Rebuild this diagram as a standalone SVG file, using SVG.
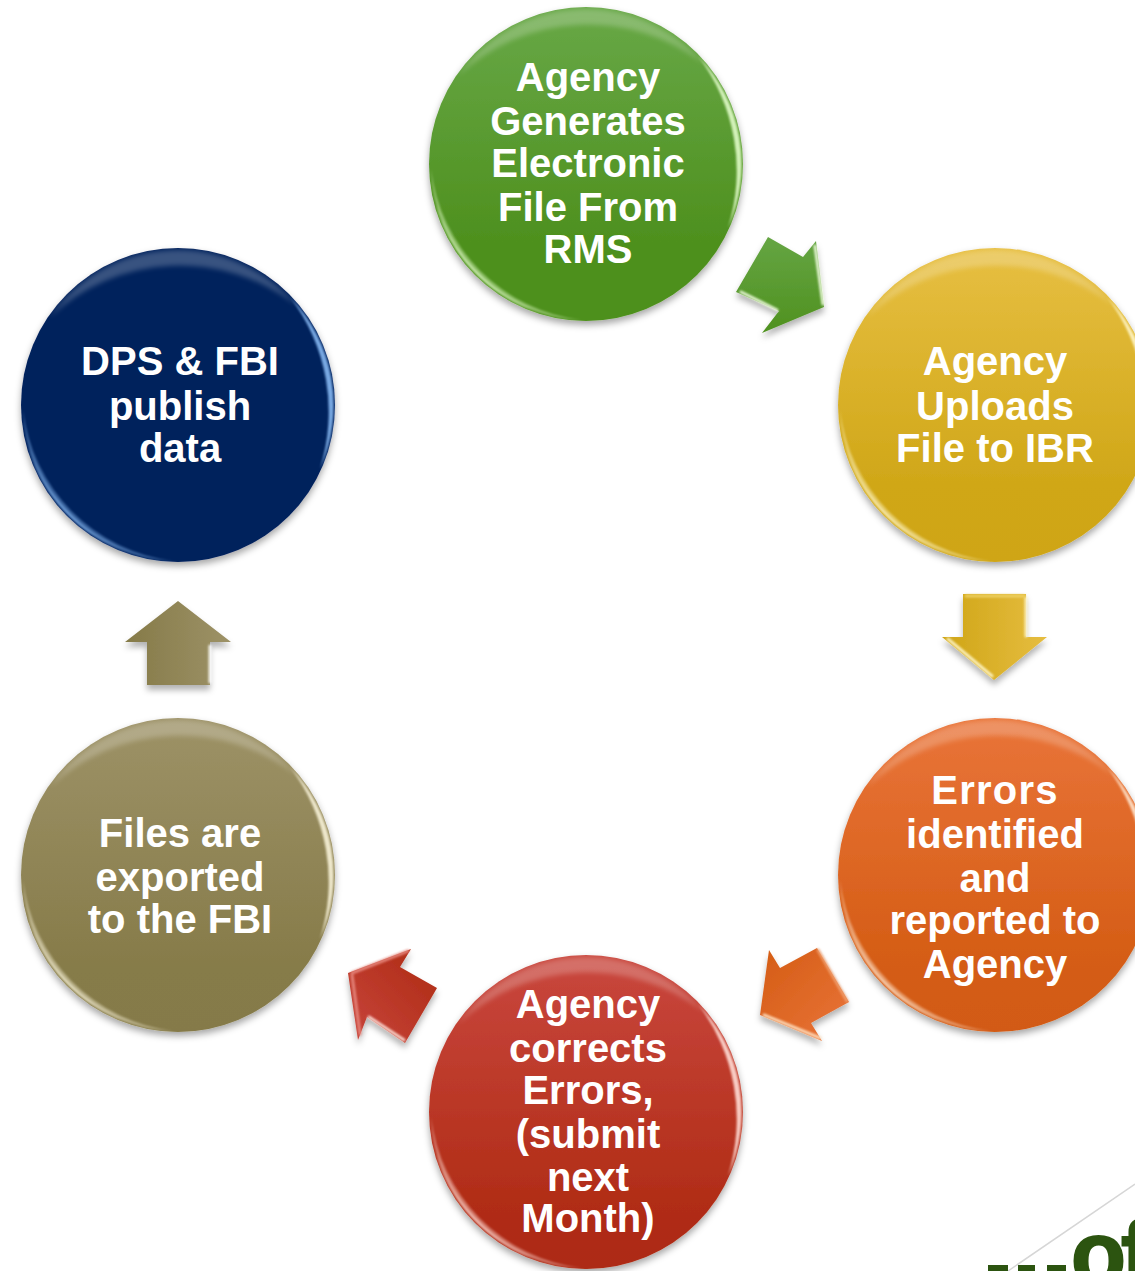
<svg xmlns="http://www.w3.org/2000/svg" width="1135" height="1271" viewBox="0 0 1135 1271">
<style>
text{font-family:"Liberation Sans",Arial,sans-serif;font-weight:700;font-size:40px;fill:#fff;text-anchor:middle}
.hi{opacity:.9;filter:url(#soft)}
.hi2{opacity:.45;filter:url(#soft)}
.top{fill:#fff;opacity:.22;filter:url(#blur)}
.ah{fill:none;stroke-linecap:round;stroke-width:3;opacity:.9;filter:url(#soft)}
</style>
<defs>
<filter id="sh" x="-15%" y="-15%" width="130%" height="130%"><feDropShadow dx="0" dy="4" stdDeviation="3.5" flood-color="#000" flood-opacity=".35"/></filter>
<filter id="ash" x="-25%" y="-25%" width="150%" height="150%"><feDropShadow dx="0" dy="5" stdDeviation="3" flood-color="#000" flood-opacity=".3"/></filter>
<filter id="soft" filterUnits="userSpaceOnUse" x="-1200" y="-1300" width="3600" height="3900"><feGaussianBlur stdDeviation=".8"/></filter>
<filter id="blur" filterUnits="userSpaceOnUse" x="-1200" y="-1300" width="3600" height="3900"><feGaussianBlur stdDeviation="2.5"/></filter>
<linearGradient id="g1" x1="0" y1="0" x2="0" y2="1"><stop offset="0" stop-color="#68a847"/><stop offset=".75" stop-color="#4e901e"/><stop offset="1" stop-color="#4e901b"/></linearGradient>
<linearGradient id="g2" x1="0" y1="0" x2="0" y2="1"><stop offset="0" stop-color="#e7bf42"/><stop offset=".75" stop-color="#d0a718"/><stop offset="1" stop-color="#cfa516"/></linearGradient>
<linearGradient id="g3" x1="0" y1="0" x2="0" y2="1"><stop offset="0" stop-color="#e97439"/><stop offset=".8" stop-color="#d45c14"/><stop offset="1" stop-color="#d25a12"/></linearGradient>
<linearGradient id="g4" x1="0" y1="0" x2="0" y2="1"><stop offset="0" stop-color="#c9473e"/><stop offset=".85" stop-color="#af2b14"/><stop offset="1" stop-color="#ad2a12"/></linearGradient>
<linearGradient id="g5" x1="0" y1="0" x2="0" y2="1"><stop offset="0" stop-color="#9d9267"/><stop offset=".8" stop-color="#867b49"/><stop offset="1" stop-color="#857a48"/></linearGradient>
<linearGradient id="a1" x1="0" y1="0" x2="0" y2="1"><stop offset="0" stop-color="#65a543"/><stop offset="1" stop-color="#4f911f"/></linearGradient>
<linearGradient id="a2" x1="0" y1="0" x2="1" y2="0"><stop offset="0" stop-color="#cfa516"/><stop offset="1" stop-color="#e6bd40"/></linearGradient>
<linearGradient id="a3" x1="0" y1="0" x2="1" y2="1"><stop offset="0" stop-color="#d45c14"/><stop offset="1" stop-color="#e97439"/></linearGradient>
<linearGradient id="a4" x1="1" y1="0" x2="0" y2="1"><stop offset="0" stop-color="#ad2a12"/><stop offset="1" stop-color="#c8453c"/></linearGradient>
<linearGradient id="a5" x1="0" y1="0" x2="1" y2="0"><stop offset="0" stop-color="#857a48"/><stop offset="1" stop-color="#9d9267"/></linearGradient>
<g id="bevel">
<path class="top" d="M-128-88A155 155 0 0 1 118-100A190 190 0 0 0-128-88Z"/>
<path class="hi2" d="M-155 5A156 156 0 0 0-5 156A172 172 0 0 1-155 5Z"/>
<path class="hi" d="M-150 40A156 156 0 0 0-50 147A170 170 0 0 1-150 40Z"/>
<path class="hi" d="M112-108A156 156 0 0 1 142 64A190 190 0 0 0 112-108Z"/>
</g>
</defs>

<g id="connectors">
<g id="arrow-green"><polygon filter="url(#ash)" fill="url(#a1)" points="768,237 803,257 816,241 824,307 762,333 779,311 736,292"/><path class="ah" stroke="#f4ffe4" d="M741 292L777 310M815 246L823 304"/></g>
<g id="arrow-yellow"><polygon filter="url(#ash)" fill="url(#a2)" points="963,594 1026,594 1026,637 1047,637 994,680 942,637 963,637"/><path class="ah" stroke="#fff6c8" d="M948 639L992 676M1026 598V636"/><path class="ah" stroke="#f0d468" d="M966 596H1024"/></g>
<g id="arrow-orange"><polygon filter="url(#ash)" fill="url(#a3)" points="769,950 780,968 817,948 849,1002 811,1023 822,1041 760,1015"/><path class="ah" stroke="#ffe0c0" d="M764 1015L820 1038"/><path class="ah" stroke="#f0a070" d="M818 950L847 1001"/></g>
<g id="arrow-red"><polygon filter="url(#ash)" fill="url(#a4)" points="411,949 400,967 437,988 405,1043 367,1017 358,1040 348,973"/><path class="ah" stroke="#ffe4dc" d="M369 1017L404 1040"/><path class="ah" stroke="#e88a80" d="M352 975L360 1034M352 973L408 951"/></g>
<g id="arrow-tan"><polygon filter="url(#ash)" fill="url(#a5)" points="178,601 231,642 210,642 210,685 147,685 147,642 125,642"/><path class="ah" stroke="#fff" d="M210 646V682"/></g>
</g>

<g id="node-green"><circle cx="586" cy="164" r="157" fill="url(#g1)" filter="url(#sh)"/><use href="#bevel" x="586" y="164" fill="#e0fbc8"/>
<text x="588" y="91">Agency</text><text x="588" y="135">Generates</text><text x="588" y="177">Electronic</text><text x="588" y="221">File From</text><text x="588" y="263">RMS</text></g>

<g id="node-yellow"><circle cx="995" cy="405" r="157" fill="url(#g2)" filter="url(#sh)"/><use href="#bevel" x="995" y="405" fill="#fff6c8"/>
<text x="995" y="375">Agency</text><text x="995" y="420">Uploads</text><text x="995" y="462">File to IBR</text></g>

<g id="node-orange"><circle cx="995" cy="875" r="157" fill="url(#g3)" filter="url(#sh)"/><use href="#bevel" x="995" y="875" fill="#ffe6cf"/>
<text x="995" y="804" letter-spacing="1.2">Errors</text><text x="995" y="848">identified</text><text x="995" y="892">and</text><text x="995" y="934">reported to</text><text x="995" y="978">Agency</text></g>

<g id="node-red"><circle cx="586" cy="1112" r="157" fill="url(#g4)" filter="url(#sh)"/><use href="#bevel" x="586" y="1112" fill="#ffdcd4"/>
<text x="588" y="1018">Agency</text><text x="588" y="1062">corrects</text><text x="588" y="1104">Errors,</text><text x="588" y="1148">(submit</text><text x="588" y="1191">next</text><text x="588" y="1232">Month)</text></g>

<g id="node-tan"><circle cx="178" cy="875" r="157" fill="url(#g5)" filter="url(#sh)"/><use href="#bevel" x="178" y="875" fill="#f8f2d8"/>
<text x="180" y="847">Files are</text><text x="180" y="891">exported</text><text x="180" y="933">to the FBI</text></g>

<g id="node-navy"><circle cx="178" cy="405" r="157" fill="#00205c" filter="url(#sh)"/><use href="#bevel" x="178" y="405" fill="#86b8f2"/>
<text x="180" y="375">DPS &amp; FBI</text><text x="180" y="420">publish</text><text x="180" y="462">data</text></g>

<g id="logo">
<path d="M1135 1184L1008 1271" fill="none" stroke="#d6d6d6" stroke-width="1.5"/>
<rect x="988" y="1265" width="20" height="6" fill="#2c5410"/><rect x="1018" y="1265" width="17" height="6" fill="#2c5410"/><rect x="1047" y="1265" width="19" height="6" fill="#2c5410"/>
<text x="1071" y="1285" letter-spacing="-5" stroke="#2c5410" stroke-width="2" style="font-size:90px;fill:#2c5410;text-anchor:start">of</text>
</g>
</svg>
